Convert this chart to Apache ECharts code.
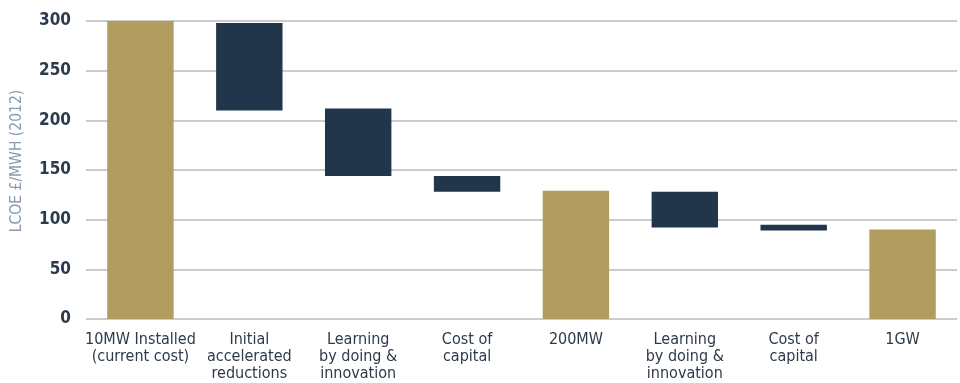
<!DOCTYPE html>
<html>
<head>
<meta charset="utf-8">
<script src="https://cdn.jsdelivr.net/npm/echarts@6/dist/echarts.min.js"></script>
<style>html,body{margin:0;padding:0;background:#fff;}#c{width:960px;height:383px;}</style>
</head>
<body>
<div id="c"></div>
<script>
const categories = ["10MW Installed\n(current cost)", "Initial\naccelerated\nreductions", "Learning\nby doing &\ninnovation", "Cost of\ncapital", "200MW", "Learning\nby doing &\ninnovation", "Cost of\ncapital", "1GW"];
const barTop = [300, 298, 212, 144, 129, 128, 95, 90];
const barBottom = [0, 210, 144, 128, 0, 92, 89, 0];
const isTotal = [true, false, false, false, true, false, false, true];
const yTicks = [0, 50, 100, 150, 200, 250, 300];

const GOLD = '#b09d5f', NAVY = '#22364b';
const font = "'Liberation Sans Narrow', 'DejaVu Sans Condensed', 'Roboto Condensed', sans-serif";

const chart = echarts.init(document.getElementById('c'));
chart.setOption({
  animation: false,
  grid: { left: 86, right: 3, top: 21, bottom: 64 },
  xAxis: {
    type: 'category',
    data: categories,
    axisTick: { show: false },
    axisLine: { show: false },
    axisLabel: { interval: 0, margin: 12, fontSize: 16, lineHeight: 17, color: '#2d3a4a', fontFamily: font }
  },
  yAxis: {
    type: 'value',
    min: yTicks[0],
    max: yTicks[yTicks.length - 1],
    interval: 50,
    name: 'LCOE £/MWH (2012)',
    nameLocation: 'middle',
    nameGap: 61,
    nameTextStyle: { color: '#8a9bb0', fontSize: 15.5, fontFamily: font, padding: [0, 0, 0, 18] },
    axisLine: { show: false },
    axisTick: { show: false },
    axisLabel: { margin: 15, fontSize: 17, fontWeight: 'bold', color: '#2b3a4d', fontFamily: font },
    splitLine: { lineStyle: { color: '#cccccc', width: 2 } }
  },
  series: [
    {
      type: 'bar', stack: 'w', barWidth: '61%',
      itemStyle: { color: 'transparent' },
      emphasis: { disabled: true },
      data: barBottom
    },
    {
      type: 'bar', stack: 'w', barWidth: '61%',
      data: barTop.map((t, i) => ({ value: t - barBottom[i], itemStyle: { color: isTotal[i] ? GOLD : NAVY } }))
    }
  ]
});
</script>
</body>
</html>
